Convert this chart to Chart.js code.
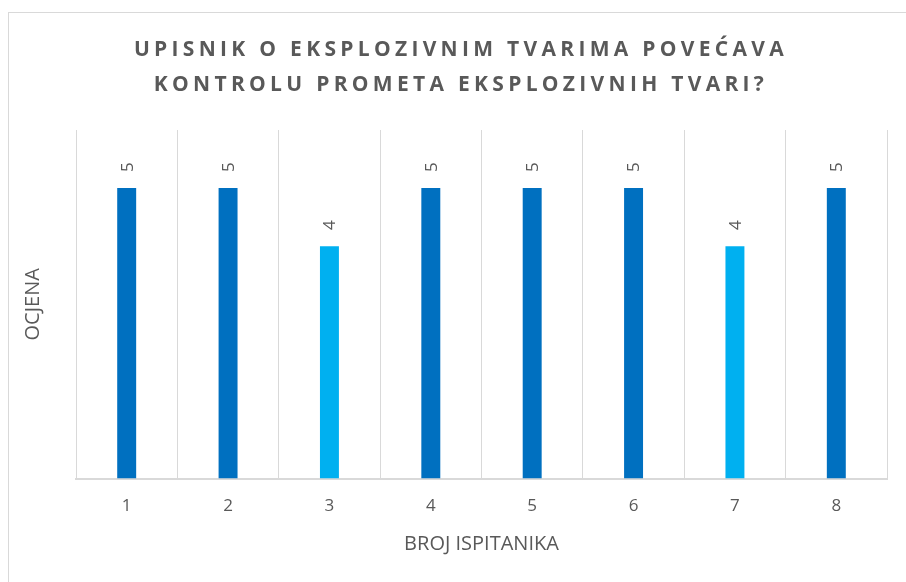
<!DOCTYPE html>
<html>
<head>
<meta charset="utf-8">
<script src="https://cdn.jsdelivr.net/npm/chart.js@4.4.1/dist/chart.umd.min.js"></script>
<style>
    html, body { margin: 0; padding: 0; background: #fff; overflow: hidden; }
    #frame {
        position: absolute; left: 8px; top: 12px;
        width: 1000px; height: 1000px;
        border: 1px solid #d9d9d9;
    }
    #wrap { position: absolute; left: 0; top: 0; width: 906px; height: 582px; }
</style>
</head>
<body>
<div id="frame"></div>
<div id="wrap"><canvas id="chart"></canvas></div>
<script>
// Data
const categories = ['1', '2', '3', '4', '5', '6', '7', '8'];
const scores = [5, 5, 4, 5, 5, 5, 4, 5];
const titleLines = ['UPISNIK O EKSPLOZIVNIM TVARIMA POVEĆAVA', 'KONTROLU PROMETA EKSPLOZIVNIH TVARI?'];

const darkBlue = '#0070C0';
const lightBlue = '#00B0F0';
const textGrey = '#595959';

// value 4 bars use the lighter blue
const barColors = scores.map(v => v === 4 ? lightBlue : darkBlue);

/* Labels above bars, rotated like the original */
const valueLabels = {
    id: 'valueLabels',
    afterDatasetsDraw(chart) {
        const ctx = chart.ctx;
        const meta = chart.getDatasetMeta(0);
        ctx.save();
        ctx.font = '17px "Open Sans"';
        ctx.fillStyle = textGrey;
        ctx.textAlign = 'center';
        ctx.textBaseline = 'middle';
        meta.data.forEach((bar, i) => {
            ctx.save();
            ctx.translate(bar.x + 1, bar.y - 21);
            ctx.rotate(-Math.PI / 2);
            ctx.fillText(String(scores[i]), 0, 0);
            ctx.restore();
        });
        ctx.restore();
    }
};

/* Spaced out letters for the title */
const spacedTitle = {
    id: 'spacedTitle',
    afterLayout(chart) {
        const block = chart.titleBlock;
        if (!block || block._spaced) return;
        const orig = block.draw;
        block.draw = function() {
            const ctx = this.ctx;
            ctx.save();
            ctx.letterSpacing = '4.3px';
            ctx.translate(7, 0);
            orig.apply(this, arguments);
            ctx.restore();
        };
        block._spaced = true;
    }
};

new Chart(document.getElementById('chart'), {
    type: 'bar',
    data: {
        labels: categories,
        datasets: [{
            data: scores,
            backgroundColor: barColors,
            categoryPercentage: 1,
            barPercentage: 0.187
        }]
    },
    options: {
        responsive: true,
        maintainAspectRatio: false,
        animation: false,
        layout: {
            padding: { top: 33, right: 19, bottom: 27, left: 21 }
        },
        plugins: {
            legend: { display: false },
            tooltip: { enabled: false },
            title: {
                display: true,
                text: titleLines,
                color: textGrey,
                font: { family: '"Open Sans"', size: 21, weight: 'bold', lineHeight: 1.667 },
                padding: { top: 0, bottom: 27 }
            }
        },
        scales: {
            x: {
                grid: {
                    color: '#d9d9d9',
                    lineWidth: 1,
                    drawTicks: false,
                    offset: true
                },
                border: { color: '#d9d9d9', width: 2 },
                ticks: {
                    color: textGrey,
                    font: { family: '"Open Sans"', size: 17 },
                    padding: 17
                },
                title: {
                    display: true,
                    text: 'BROJ ISPITANIKA',
                    color: textGrey,
                    font: { family: '"Open Sans"', size: 20, lineHeight: 1.1 },
                    padding: { top: 0, bottom: 0 }
                }
            },
            y: {
                min: 0,
                max: 6,
                grid: { display: false },
                border: { display: false },
                ticks: { display: false, stepSize: 1 },
                title: {
                    display: true,
                    text: 'OCJENA',
                    color: textGrey,
                    font: { family: '"Open Sans"', size: 20 },
                    padding: { top: 0, bottom: 23 }
                }
            }
        }
    },
    plugins: [valueLabels, spacedTitle]
});
</script>
</body>
</html>
